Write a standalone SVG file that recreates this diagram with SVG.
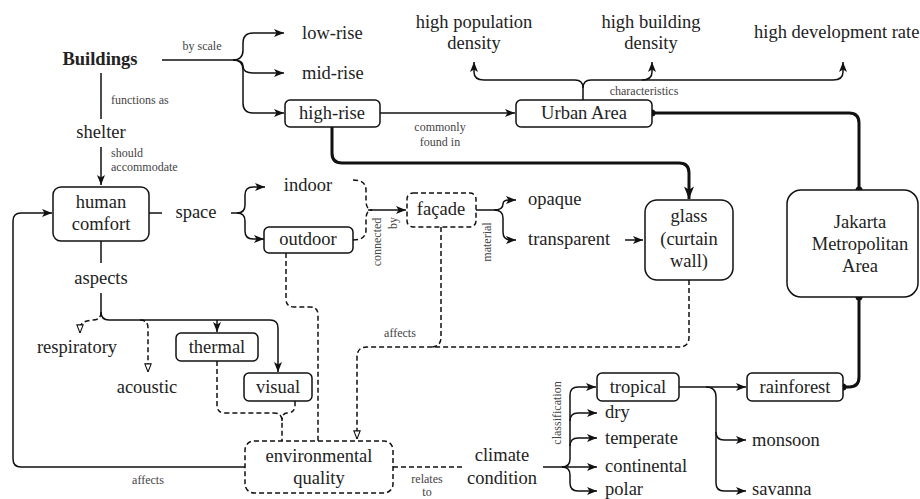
<svg xmlns="http://www.w3.org/2000/svg" width="920" height="499" viewBox="0 0 920 499">
<defs>
<marker id="arr" viewBox="0 0 10 8" refX="10" refY="4" markerWidth="10" markerHeight="8" markerUnits="userSpaceOnUse" orient="auto"><path d="M0,0 L10,4 L0,8 L2.5,4 z" fill="#111"/></marker>
<marker id="arrB" viewBox="0 0 10 8" refX="10" refY="4" markerWidth="13" markerHeight="10" markerUnits="userSpaceOnUse" orient="auto"><path d="M0,0 L10,4 L0,8 L2.5,4 z" fill="#111"/></marker>
<marker id="open" viewBox="0 0 10 8" refX="9.5" refY="4" markerWidth="9" markerHeight="8" markerUnits="userSpaceOnUse" orient="auto"><path d="M0.5,0.5 L9.5,4 L0.5,7.5 z" fill="#fff" stroke="#111" stroke-width="1.2"/></marker>
<marker id="dot" viewBox="0 0 8 8" refX="4" refY="4" markerWidth="8" markerHeight="8" markerUnits="userSpaceOnUse"><circle cx="4" cy="4" r="3.5" fill="#111"/></marker>
</defs>
<style>
text{font-family:"Times New Roman","Liberation Serif",Times,"Noto Serif","DejaVu Serif",FreeSerif,serif;fill:#222}
.t{font-size:18.5px}
.c{text-anchor:middle}
.b{font-weight:bold}
.s{font-size:12px;fill:#444}
.box{fill:#fff;stroke:#111;stroke-width:1.5}
.dbox{fill:#fff;stroke:#111;stroke-width:1.5;stroke-dasharray:5,3}
.ln{fill:none;stroke:#111;stroke-width:1.5}
.dl{fill:none;stroke:#111;stroke-width:1.5;stroke-dasharray:5,3}
.th{fill:none;stroke:#111;stroke-width:3}
</style>
<rect width="920" height="499" fill="#fff"/>
<g id="connectors">
<path class="ln" d="M162,60 L233,60 Q243,60 243,50 L243,43 Q243,33 253,33 L284,33" marker-end="url(#arr)"/>
<path class="ln" d="M233,60 Q243,60 243,66 Q243,73 253,73 L284,73" marker-end="url(#arr)"/>
<path class="ln" d="M233,60 Q243,60 243,70 L243,103 Q243,113 253,113 L284,113" marker-end="url(#arr)"/>
<path class="ln" d="M101,73 L101,119"/>
<path class="ln" d="M101,147 L101,185" marker-end="url(#arr)"/>
<path class="ln" d="M380,113 L515,113" marker-end="url(#arr)"/>
<path class="ln" d="M583,100 L583,88 Q583,80 575,80 L484,80 Q474,80 474,72 L474,62" marker-end="url(#arr)"/>
<path class="ln" d="M583,88 Q583,80 591,80 L833,80 Q843,80 843,72 L843,62" marker-end="url(#arr)"/>
<path class="ln" d="M642,80 Q652,80 652,72 L652,62" marker-end="url(#arr)"/>
<path class="th" d="M332,127 L332,153 Q332,163 342,163 L679,163 Q689,163 689,173 L689,199" marker-end="url(#arrB)"/>
<path class="th" d="M652,113 L849,113 Q859,113 859,123 L859,190" marker-start="url(#dot)" marker-end="url(#dot)"/>
<path class="th" d="M859,297 L859,377 Q859,387 849,387 L843,387" marker-start="url(#dot)" marker-end="url(#dot)"/>
<path class="ln" d="M149,213 L162,213"/>
<path class="ln" d="M231,213 L237,213 Q245,213 245,205 L245,195 Q245,187 253,187 L265,187" marker-end="url(#arr)"/>
<path class="ln" d="M237,213 Q245,213 245,221 L245,231 Q245,239 253,239 L264,239" marker-end="url(#arr)"/>
<path class="dl" d="M353,180 Q366,180 366,190 L366,200 Q366,210 372,210"/>
<path class="dl" d="M353,240 Q366,240 366,230 L366,220 Q366,210 372,210"/>
<path class="ln" d="M368,210 L406,210" marker-end="url(#arr)"/>
<path class="ln" d="M476,210 L494,210 Q503,210 503,204 Q503,200 509,200 L516,200" marker-end="url(#arr)"/>
<path class="ln" d="M494,210 Q503,210 503,218 L503,232 Q503,240 511,240 L516,240" marker-end="url(#arr)"/>
<path class="ln" d="M625,240 L643,240" marker-end="url(#arr)"/>
<path class="dl" d="M689,280 L689,337 Q689,347 679,347 L367,347 Q357,347 357,357 L357,439" marker-end="url(#open)"/>
<path class="dl" d="M441,227 L441,337 Q441,347 431,347"/>
<path class="dl" d="M393,467 L462,467"/>
<path class="ln" d="M543,467 L562,467 Q570,467 570,459 L570,395 Q570,387 578,387 L596,387" marker-end="url(#arr)"/>
<path class="ln" d="M570,421 Q570,413 578,413 L597,413" marker-end="url(#arr)"/>
<path class="ln" d="M570,446 Q570,438 578,438 L597,438" marker-end="url(#arr)"/>
<path class="ln" d="M562,467 L597,467" marker-end="url(#arr)"/>
<path class="ln" d="M562,467 Q570,467 570,475 L570,483 Q570,491 578,491 L597,491" marker-end="url(#arr)"/>
<path class="ln" d="M679,387 L746,387" marker-end="url(#arr)"/>
<path class="ln" d="M706,387 Q716,387 716,397 L716,432 Q716,440 724,440 L746,440" marker-end="url(#arr)"/>
<path class="ln" d="M716,432 L716,483 Q716,491 724,491 L746,491" marker-end="url(#arr)"/>
<path class="ln" d="M101,241 L101,263"/>
<path class="ln" d="M101,293 L101,312 Q101,320 109,320 L270,320 Q278,320 278,328 L278,372" marker-end="url(#arr)"/>
<path class="ln" d="M217,320 L217,332" marker-end="url(#arr)"/>
<path class="dl" d="M101,312 Q101,320 93,320 Q80,321 80,328 L80,333" marker-end="url(#open)"/>
<path class="dl" d="M140,320 Q148,320 148,328 L148,372" marker-end="url(#open)"/>
<path class="dl" d="M217,361 L217,405 Q217,413 225,413 L274,413 Q282,413 282,421 L282,441"/>
<path class="dl" d="M295,401 L295,405 Q295,413 287,413 Q282,413 282,421"/>
<path class="dl" d="M286,253 L286,299 Q286,307 294,307 L310,307 Q318,307 318,315 L318,441"/>
<path class="ln" d="M245,467 L21,467 Q13,467 13,459 L13,221 Q13,213 21,213 L52,213" marker-end="url(#arr)"/>
<text class="s c" x="202" y="50">by scale</text>
<text class="s" x="111" y="104">functions as</text>
<text class="s" x="111" y="157">should</text>
<text class="s" x="111" y="171">accommodate</text>
<text class="s c" x="440" y="131">commonly</text>
<text class="s c" x="440" y="146">found in</text>
<text class="s c" x="644" y="95">characteristics</text>
<text class="s c" transform="translate(381,242) rotate(-90)">connected</text>
<text class="s c" transform="translate(397,223) rotate(-90)">by</text>
<text class="s c" transform="translate(491,242) rotate(-90)">material</text>
<text class="s c" x="400" y="337">affects</text>
<text class="s c" x="148" y="484">affects</text>
<text class="s c" x="427" y="483">relates</text>
<text class="s c" x="427" y="496">to</text>
<text class="s c" transform="translate(561,413) rotate(-90)">classification</text>
</g>
<g id="buildings"><text class="t c b" x="100" y="65">Buildings</text></g>
<g id="shelter"><text class="t c" x="101" y="138">shelter</text></g>
<g id="low-rise"><text class="t" x="302" y="39">low-rise</text></g>
<g id="mid-rise"><text class="t" x="302" y="79">mid-rise</text></g>
<g id="high-rise"><rect class="box" x="285" y="100" width="95" height="27" rx="5"/><text class="t c" x="332" y="119">high-rise</text></g>
<g id="urban-area"><rect class="box" x="516" y="100" width="136" height="27" rx="5"/><text class="t c" x="584" y="119">Urban Area</text></g>
<g id="high-population-density"><text class="t c" x="474" y="28">high population</text><text class="t c" x="474" y="49">density</text></g>
<g id="high-building-density"><text class="t c" x="651" y="28">high building</text><text class="t c" x="651" y="49">density</text></g>
<g id="high-development-rate"><text class="t" x="754" y="38">high development rate</text></g>
<g id="human-comfort"><rect class="box" x="53" y="187" width="96" height="54" rx="8"/><text class="t c" x="101" y="208">human</text><text class="t c" x="101" y="230">comfort</text></g>
<g id="space"><text class="t c" x="196" y="218">space</text></g>
<g id="indoor"><text class="t c" x="308" y="191">indoor</text></g>
<g id="outdoor"><rect class="box" x="264" y="227" width="89" height="26" rx="5"/><text class="t c" x="308" y="245">outdoor</text></g>
<g id="facade"><rect class="dbox" x="407" y="193" width="69" height="34" rx="6"/><text class="t c" x="441" y="215">façade</text></g>
<g id="opaque"><text class="t" x="528" y="205">opaque</text></g>
<g id="transparent"><text class="t" x="528" y="245">transparent</text></g>
<g id="glass"><rect class="box" x="645" y="200" width="88" height="80" rx="12"/><text class="t c" x="689" y="222">glass</text><text class="t c" x="689" y="245">(curtain</text><text class="t c" x="689" y="267">wall)</text></g>
<g id="jakarta"><rect class="box" x="787" y="190" width="131" height="107" rx="14"/><text class="t c" x="860" y="228">Jakarta</text><text class="t c" x="860" y="250">Metropolitan</text><text class="t c" x="860" y="272">Area</text></g>
<g id="aspects"><text class="t c" x="101" y="284">aspects</text></g>
<g id="respiratory"><text class="t c" x="77" y="353">respiratory</text></g>
<g id="acoustic"><text class="t c" x="147" y="393">acoustic</text></g>
<g id="thermal"><rect class="box" x="176" y="333" width="82" height="28" rx="5"/><text class="t c" x="217" y="353">thermal</text></g>
<g id="visual"><rect class="box" x="244" y="373" width="68" height="28" rx="5"/><text class="t c" x="278" y="393">visual</text></g>
<g id="environmental-quality"><rect class="dbox" x="245" y="441" width="148" height="52" rx="9"/><text class="t c" x="319" y="462">environmental</text><text class="t c" x="319" y="484">quality</text></g>
<g id="climate-condition"><text class="t c" x="502" y="461">climate</text><text class="t c" x="502" y="484">condition</text></g>
<g id="tropical"><rect class="box" x="597" y="373" width="82" height="28" rx="5"/><text class="t c" x="638" y="393">tropical</text></g>
<g id="dry"><text class="t" x="605" y="418">dry</text></g>
<g id="temperate"><text class="t" x="605" y="444">temperate</text></g>
<g id="continental"><text class="t" x="605" y="472">continental</text></g>
<g id="polar"><text class="t" x="605" y="495">polar</text></g>
<g id="rainforest"><rect class="box" x="747" y="373" width="96" height="28" rx="5"/><text class="t c" x="795" y="393">rainforest</text></g>
<g id="monsoon"><text class="t" x="752" y="446">monsoon</text></g>
<g id="savanna"><text class="t" x="752" y="495">savanna</text></g>
</svg>
